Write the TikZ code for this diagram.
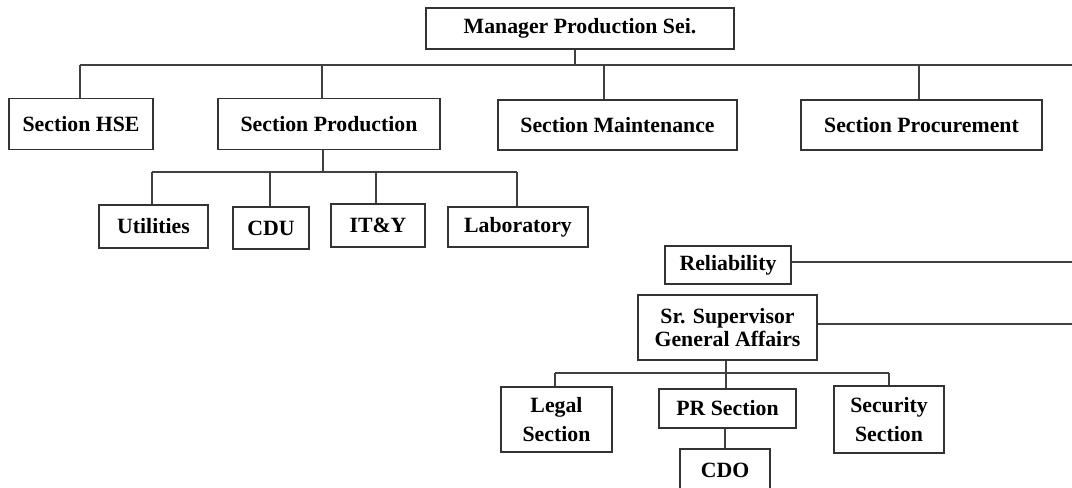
\documentclass[tikz,border=0pt]{standalone}
\usepackage{fontspec}
\setmainfont{Liberation Serif}
\usetikzlibrary{positioning}

\begin{document}
\begin{tikzpicture}[x=0.02cm, y=-0.02cm]
	\tikzstyle{Unit}	= [rectangle, draw=black!80, line width=1.1pt, fill=white, inner sep=0pt, align=center, font=\fontsize{12.4}{13.5}\selectfont\bfseries]
	\tikzstyle{Tall}	= [font=\fontsize{12.4}{16.5}\selectfont\bfseries]
	\tikzstyle{Link}	= [black!75, line width=0.9pt]

	\path [use as bounding box, clip] (0,0) rectangle (1072,487);

	% top level
	\node (man) at (580,28.5) [Unit, minimum width=6.16cm, minimum height=0.82cm] {Manager Production Sei.};
	\node (hse) at (81,124) [Unit, minimum width=2.88cm, minimum height=1.02cm] {Section HSE};
	\node (prod) at (329,124) [Unit, minimum width=4.44cm, minimum height=1.02cm] {Section Production};
	\node (maint) at (617.5,125) [Unit, minimum width=4.78cm, minimum height=1.00cm] {Section Maintenance};
	\node (proc) at (921.5,125) [Unit, minimum width=4.82cm, minimum height=1.00cm] {Section Procurement};

	% production units
	\node (util) at (153.5,226.5) [Unit, minimum width=2.18cm, minimum height=0.86cm] {Utilities};
	\node (cdu) at (271,228) [Unit, minimum width=1.52cm, minimum height=0.84cm] {CDU};
	\node (ity) at (378,225.5) [Unit, minimum width=1.88cm, minimum height=0.86cm] {IT\&Y};
	\node (lab) at (518,227) [Unit, minimum width=2.80cm, minimum height=0.80cm] {Laboratory};

	% general affairs
	\node (rel) at (728,265) [Unit, minimum width=2.52cm, minimum height=0.76cm] {Reliability};
	\node (ga) at (727.5,327.5) [Unit, minimum width=3.58cm, minimum height=1.30cm] {Sr. Supervisor\\General Affairs};
	\node (legal) at (556.5,419.5) [Unit, Tall, minimum width=2.22cm, minimum height=1.30cm] {Legal\\Section};
	\node (pr) at (727.5,408.5) [Unit, minimum width=2.74cm, minimum height=0.78cm] {PR Section};
	\node (sec) at (889,419.5) [Unit, Tall, minimum width=2.20cm, minimum height=1.34cm] {Security\\Section};
	\node (cdo) at (725,470) [Unit, minimum width=1.80cm, minimum height=0.84cm] {CDO};

	% bus points
	\coordinate (b0) at (575,65);
	\coordinate (b1) at (80,65);
	\coordinate (b2) at (322,65);
	\coordinate (b3) at (604,65);
	\coordinate (b4) at (919,65);
	\coordinate (b5) at (1072,65);
	\coordinate (p0) at (323,172);
	\coordinate (p1) at (152,172);
	\coordinate (p2) at (270,172);
	\coordinate (p3) at (376,172);
	\coordinate (p4) at (517,172);
	\coordinate (r1) at (1072,262);
	\coordinate (r2) at (1072,324);
	\coordinate (g0) at (726,373);
	\coordinate (g1) at (555,373);
	\coordinate (g3) at (889,373);

	\draw [-] (b0 |- man.south) to (b0) [Link];
	\draw [-] (b1) to (b5) [Link];
	\draw [-] (b1) to (b1 |- hse.north) [Link];
	\draw [-] (b2) to (b2 |- prod.north) [Link];
	\draw [-] (b3) to (b3 |- maint.north) [Link];
	\draw [-] (b4) to (b4 |- proc.north) [Link];

	\draw [-] (p0 |- prod.south) to (p0) [Link];
	\draw [-] (p1) to (p4) [Link];
	\draw [-] (p1) to (p1 |- util.north) [Link];
	\draw [-] (p2) to (p2 |- cdu.north) [Link];
	\draw [-] (p3) to (p3 |- ity.north) [Link];
	\draw [-] (p4) to (p4 |- lab.north) [Link];

	\draw [-] (rel.east |- r1) to (r1) [Link];
	\draw [-] (ga.east |- r2) to (r2) [Link];
	\draw [-] (g0 |- ga.south) to (g0) [Link];
	\draw [-] (g1) to (g3) [Link];
	\draw [-] (g1) to (g1 |- legal.north) [Link];
	\draw [-] (g0) to (g0 |- pr.north) [Link];
	\draw [-] (g3) to (g3 |- sec.north) [Link];
	\draw [-] (pr.south -| cdo) to (cdo) [Link];
\end{tikzpicture}
\end{document}
